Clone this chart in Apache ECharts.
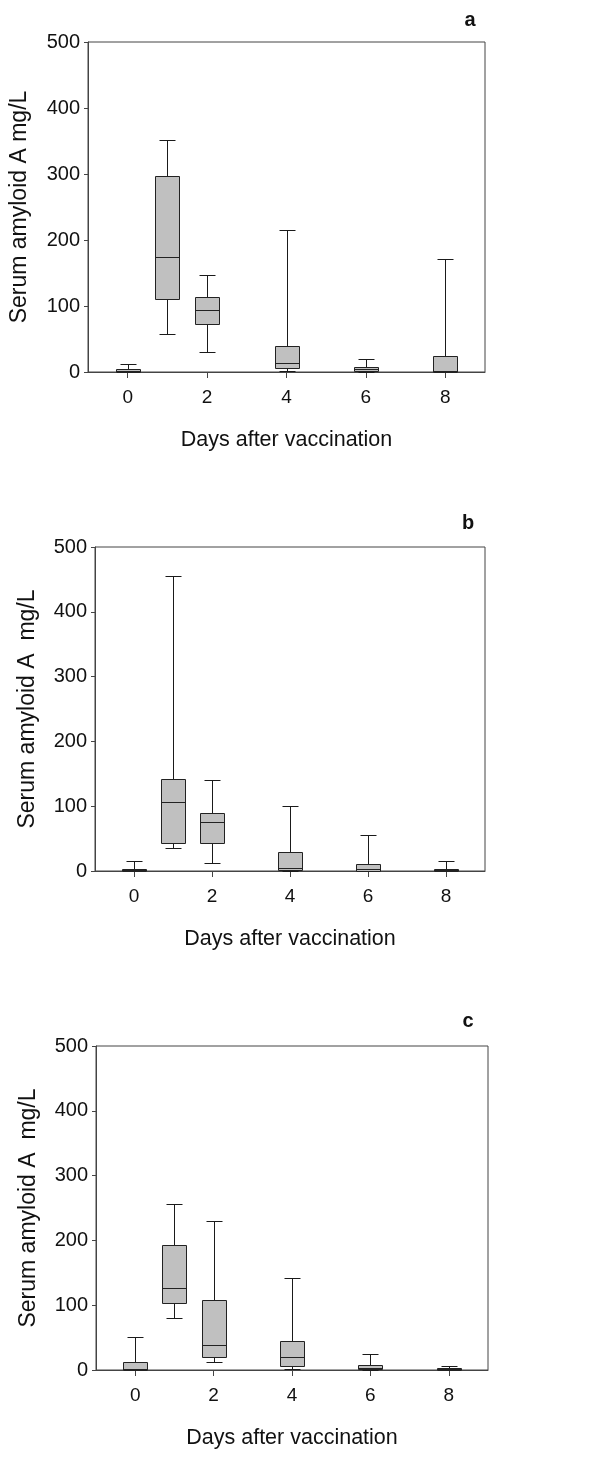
<!DOCTYPE html>
<html><head><meta charset="utf-8">
<script src="https://cdn.jsdelivr.net/npm/echarts@6/dist/echarts.min.js"></script>
<style>html,body{margin:0;padding:0;background:#fff}#c{width:600px;height:1457px}</style>
</head><body><div id="c"></div>
<script>
const days = [0, 1, 2, 4, 6, 8];
const xTickLabels = [0, 2, 4, 6, 8];
const panelLetters = ['a', 'b', 'c'];
const yTitles = ['Serum amyloid A mg/L', 'Serum amyloid A  mg/L', 'Serum amyloid A  mg/L'];
const xTitle = 'Days after vaccination';
// Panel a
const aMin = [0, 58, 31, 1, 0, 0];
const aQ1  = [0.5, 110, 73, 6, 1, 0.5];
const aMed = [2, 175, 94, 14, 4, 2];
const aQ3  = [4, 297, 113, 40, 8, 25];
const aMax = [12, 351, 147, 215, 20, 171];
// Panel b
const bMin = [0, 35, 12, 0, 0, 0];
const bQ1  = [0.5, 43, 43, 2, 0.5, 0.5];
const bMed = [2, 106, 75, 4, 3.5, 2];
const bQ3  = [3.5, 142, 90, 29, 11, 3.5];
const bMax = [16, 455, 141, 101, 55, 15];
// Panel c
const cMin = [0, 81, 12, 1.5, 0, 0];
const cQ1  = [0, 103, 20, 6, 1, 0.5];
const cMed = [1, 126, 39, 20, 3.5, 2];
const cQ3  = [12, 193, 108, 44, 8, 3.5];
const cMax = [51, 256, 230, 142, 25, 6];

const panels = [
  [aMin, aQ1, aMed, aQ3, aMax],
  [bMin, bQ1, bMed, bQ3, bMax],
  [cMin, cQ1, cMed, cQ3, cMax]
];

const FONT = 'Liberation Sans, Arial, sans-serif';
const grids = [
  {left: 87, right: 115, top: 42, height: 330},
  {left: 95, right: 115, top: 547, height: 324},
  {left: 96, right: 112, top: 1046, height: 324}
];
const letterPos = [[470, 20], [468, 523], [468, 1021]];

function renderBox(params, api) {
  const x = api.value(0);
  const mn = api.value(1), q1 = api.value(2), md = api.value(3), q3 = api.value(4), mx = api.value(5);
  const pMin = api.coord([x, mn]), pQ1 = api.coord([x, q1]), pMed = api.coord([x, md]);
  const pQ3 = api.coord([x, q3]), pMax = api.coord([x, mx]);
  const cx = Math.round(pMin[0]) + 0.5;
  const bw = 24, cw = 16;
  const ls = {stroke: '#1a1a1a', lineWidth: 1, fill: null};
  const ch = [];
  const r = v => Math.round(v) + 0.5;
  if (mx > q3) {
    ch.push({type: 'line', shape: {x1: cx, y1: r(pQ3[1]), x2: cx, y2: r(pMax[1])}, style: ls});
    ch.push({type: 'line', shape: {x1: cx - cw / 2, y1: r(pMax[1]), x2: cx + cw / 2, y2: r(pMax[1])}, style: ls});
  }
  if (mn < q1) {
    ch.push({type: 'line', shape: {x1: cx, y1: r(pQ1[1]), x2: cx, y2: r(pMin[1])}, style: ls});
    ch.push({type: 'line', shape: {x1: cx - cw / 2, y1: r(pMin[1]), x2: cx + cw / 2, y2: r(pMin[1])}, style: ls});
  }
  const yTop = r(pQ3[1]), yBot = r(pQ1[1]);
  ch.push({type: 'rect', shape: {x: cx - bw / 2, y: yTop, width: bw, height: Math.max(yBot - yTop, 1)},
    style: {fill: '#c0c0c0', stroke: '#222', lineWidth: 1}});
  ch.push({type: 'line', shape: {x1: cx - bw / 2, y1: r(pMed[1]), x2: cx + bw / 2, y2: r(pMed[1])}, style: {stroke: '#222', lineWidth: 1}});
  return {type: 'group', children: ch};
}

const option = {
  backgroundColor: '#fff',
  animation: false,
  grid: grids.map(g => Object.assign({show: true, borderColor: '#444', borderWidth: 1, backgroundColor: 'transparent'}, g)),
  xAxis: grids.map((g, i) => ({
    gridIndex: i, type: 'value', min: -1, max: 9,
    axisLine: {show: true, onZero: false, lineStyle: {color: '#444', width: 1}},
    axisTick: {show: true, customValues: xTickLabels, length: 6, lineStyle: {color: '#444'}},
    axisLabel: {customValues: xTickLabels, fontSize: 19, color: '#111', margin: 16, fontFamily: FONT},
    splitLine: {show: false},
    name: xTitle, nameLocation: 'middle', nameGap: 57,
    nameTextStyle: {fontSize: 21.5, color: '#111', fontFamily: FONT}
  })),
  yAxis: grids.map((g, i) => ({
    gridIndex: i, type: 'value', min: 0, max: 500, interval: 100,
    axisLine: {show: true, onZero: false, lineStyle: {color: '#444', width: 1}},
    axisTick: {show: true, length: 4, lineStyle: {color: '#444'}},
    axisLabel: {fontSize: 20, color: '#111', margin: 8, fontFamily: FONT},
    splitLine: {show: false},
    name: yTitles[i], nameLocation: 'middle', nameGap: i === 0 ? 57 : 56, nameRotate: 90,
    nameTextStyle: {fontSize: 23, color: '#111', fontFamily: FONT}
  })),
  graphic: letterPos.map((p, i) => ({
    type: 'text', x: p[0], y: p[1],
    style: {text: panelLetters[i], font: 'bold 20px ' + FONT, fill: '#111', align: 'center', verticalAlign: 'middle'}
  })),
  series: panels.map((arrs, i) => ({
    type: 'custom', xAxisIndex: i, yAxisIndex: i,
    renderItem: renderBox,
    encode: {x: 0, y: [1, 2, 3, 4, 5]},
    data: days.map((d, k) => [d, arrs[0][k], arrs[1][k], arrs[2][k], arrs[3][k], arrs[4][k]])
  }))
};

const chart = echarts.init(document.getElementById('c'), null, {renderer: 'canvas'});
chart.setOption(option);
</script>
</body></html>
